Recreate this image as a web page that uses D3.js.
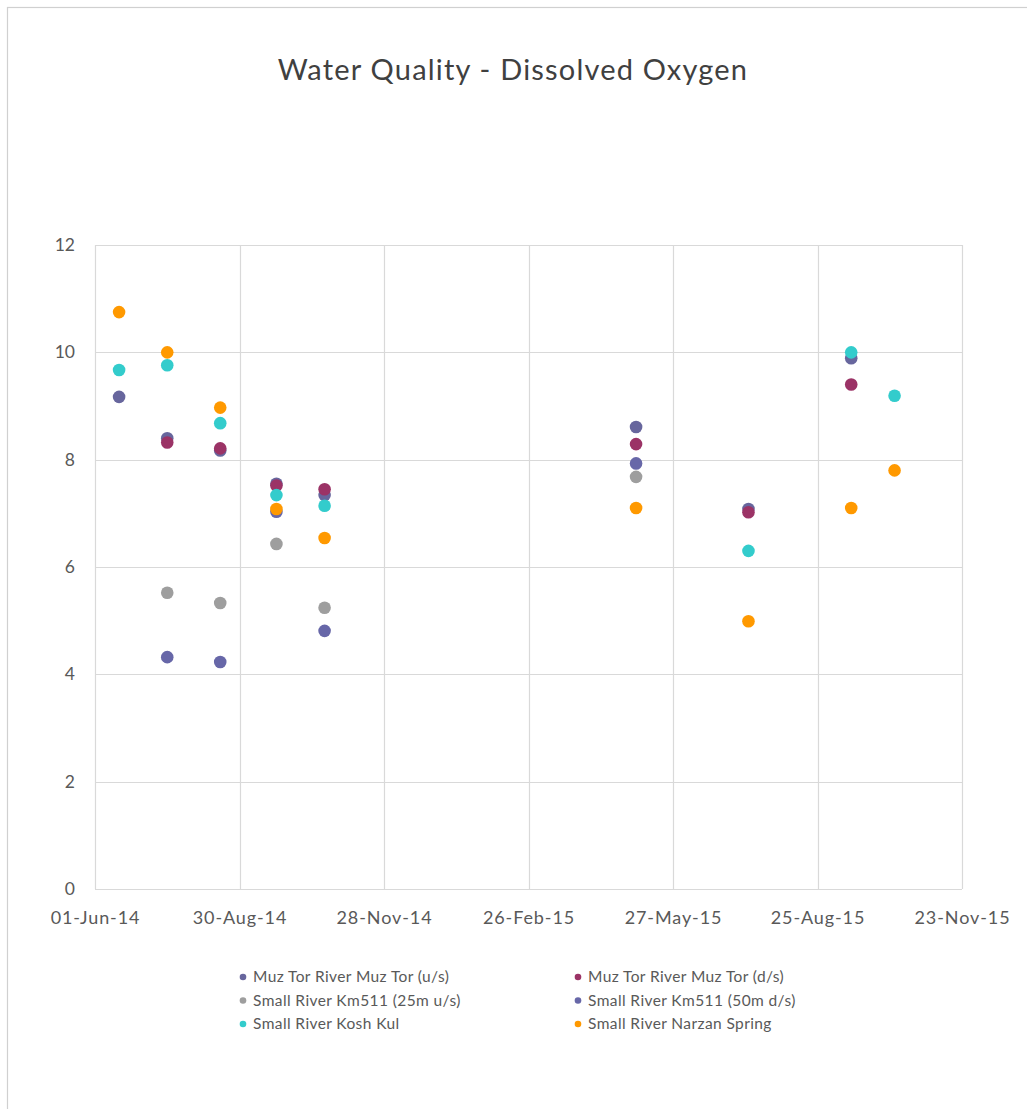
<!DOCTYPE html>
<html>
<head>
<meta charset="utf-8">
<script src="https://cdn.jsdelivr.net/npm/d3@7"></script>
<style>
  html, body { margin: 0; padding: 0; background: #fff; }
  svg text { font-family: Lato, "Open Sans", "Liberation Sans", sans-serif; fill: #404040; }
</style>
</head>
<body>
<svg id="chart" width="1027" height="1109"></svg>
<script>
// Sampling dates (one per field campaign)
const sampleDates = ["2014-06-16", "2014-07-16", "2014-08-18", "2014-09-22", "2014-10-22",
                     "2015-05-04", "2015-07-13", "2015-09-15", "2015-10-12"];

// Dissolved oxygen (mg/L) per site; null = no sample on that date
const muzTorUs     = [9.17, 8.40, 8.17, 7.55, 7.34, 8.61, 7.08, 9.89, null];
const muzTorDs     = [null, 8.32, 8.21, 7.52, 7.45, 8.29, 7.02, 9.40, null];
const km511Us25    = [null, 5.52, 5.33, 6.43, 5.24, 7.68, null, null, null];
const km511Ds50    = [null, 4.32, 4.23, 7.03, 4.81, 7.93, null, null, null];
const koshKul      = [9.67, 9.76, 8.68, 7.34, 7.14, null, 6.30, 10.00, 9.19];
const narzanSpring = [10.75, 10.00, 8.97, 7.08, 6.54, 7.10, 4.99, 7.10, 7.80];

const seriesNames = ["Muz Tor River Muz Tor (u/s)", "Muz Tor River Muz Tor (d/s)",
                     "Small River Km511 (25m u/s)", "Small River Km511 (50m d/s)",
                     "Small River Kosh Kul", "Small River Narzan Spring"];
const seriesColors = ["#67669d", "#9b3366", "#9e9e9e", "#6767a8", "#33cccc", "#ff9900"];
const seriesValues = [muzTorUs, muzTorDs, km511Us25, km511Ds50, koshKul, narzanSpring];

const xTickDates = ["2014-06-01", "2014-08-30", "2014-11-28", "2015-02-26",
                    "2015-05-27", "2015-08-25", "2015-11-23"];
const yTicks = [0, 2, 4, 6, 8, 10, 12];

const parse = d3.utcParse("%Y-%m-%d");
const fmt = d3.utcFormat("%d-%b-%y");

const svg = d3.select("#chart");
const margin = { left: 95, right: 1027 - 962, top: 245, bottom: 1109 - 889 };
const W = 1027, H = 1109;

// Outer chart frame
svg.append("rect")
  .attr("x", 7.5).attr("y", 7.5)
  .attr("width", 1040).attr("height", 1120)
  .attr("fill", "#fff").attr("stroke", "#d0d0d0").attr("stroke-width", 1.2);

const x = d3.scaleUtc()
  .domain([parse(xTickDates[0]), parse(xTickDates[xTickDates.length - 1])])
  .range([margin.left, W - margin.right]);
const y = d3.scaleLinear().domain([0, 12]).range([H - margin.bottom, margin.top]);

// Gridlines
const grid = svg.append("g");
grid.selectAll("line.h").data(yTicks).join("line")
  .attr("x1", x.range()[0]).attr("x2", x.range()[1])
  .attr("y1", d => Math.round(y(d)) + 0.5).attr("y2", d => Math.round(y(d)) + 0.5)
  .attr("stroke", "#d9d9d9").attr("stroke-width", 1.2);
grid.selectAll("line.v").data(xTickDates).join("line")
  .attr("x1", d => Math.round(x(parse(d))) + 0.5).attr("x2", d => Math.round(x(parse(d))) + 0.5)
  .attr("y1", y.range()[0]).attr("y2", y.range()[1])
  .attr("stroke", "#d9d9d9").attr("stroke-width", 1.2);

// Axes (labels only; lines come from the grid)
const yAxis = d3.axisLeft(y).tickValues(yTicks).tickSize(0).tickPadding(20);
svg.append("g").attr("transform", `translate(${margin.left},0)`).call(yAxis)
  .call(g => g.select(".domain").remove())
  .selectAll("text").attr("font-size", 17.5).style("fill", "#595959")
  .style("font-family", "Lato, 'Open Sans', sans-serif");

const xAxis = d3.axisBottom(x).tickValues(xTickDates.map(parse)).tickFormat(fmt)
  .tickSize(0).tickPadding(22);
svg.append("g").attr("transform", `translate(0,${H - margin.bottom})`).call(xAxis)
  .call(g => g.select(".domain").remove())
  .selectAll("text").attr("font-size", 18).attr("letter-spacing", 0.9)
  .style("fill", "#595959")
  .style("font-family", "Lato, 'Open Sans', sans-serif");

// Points
seriesValues.forEach((vals, i) => {
  const pts = vals.map((v, j) => ({ d: parse(sampleDates[j]), v })).filter(p => p.v != null);
  svg.append("g").selectAll("circle").data(pts).join("circle")
    .attr("cx", p => x(p.d)).attr("cy", p => y(p.v)).attr("r", 6.3)
    .attr("fill", seriesColors[i]);
});

// Title
svg.append("text")
  .attr("x", 513).attr("y", 80).attr("text-anchor", "middle")
  .attr("font-size", 29).attr("letter-spacing", 1.2).style("fill", "#404040")
  .text("Water Quality - Dissolved Oxygen");

// Legend: two columns, three rows
const legend = svg.append("g");
seriesNames.forEach((name, i) => {
  const col = i % 2, row = Math.floor(i / 2);
  const lx = col === 0 ? 243 : 578;
  const ly = 977 + row * 23.5;
  legend.append("circle").attr("cx", lx).attr("cy", ly).attr("r", 3.3).attr("fill", seriesColors[i]);
  legend.append("text").attr("x", lx + 10).attr("y", ly + 5)
    .attr("font-size", 15.5).attr("letter-spacing", 0.4)
    .style("fill", "#595959").text(name);
});
</script>
</body>
</html>
